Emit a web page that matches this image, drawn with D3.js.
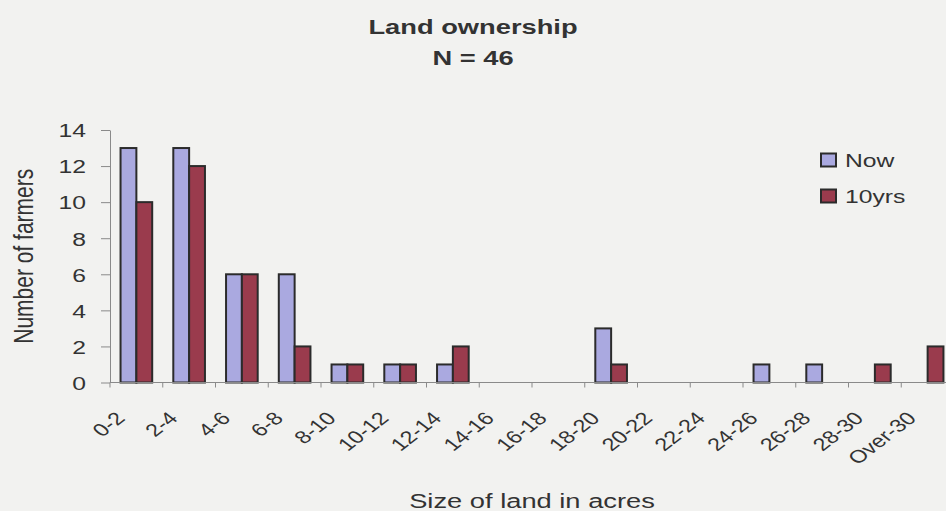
<!DOCTYPE html>
<html>
<head>
<meta charset="utf-8">
<script src="https://cdn.jsdelivr.net/npm/d3@7"></script>
<style>
  html, body { margin: 0; padding: 0; background: #f2f2f0; }
  svg { display: block; }
  text { font-family: "Liberation Sans", Arial, sans-serif; fill: #333; }
</style>
</head>
<body>
<svg id="chart" width="946" height="511"></svg>
<script>
// Land size classes (acres)
const categories = ["0-2", "2-4", "4-6", "6-8", "8-10", "10-12", "12-14", "14-16",
                    "16-18", "18-20", "20-22", "22-24", "24-26", "26-28", "28-30", "Over-30"];
// Number of farmers owning land of each size, now and expected in 10 years
const nowValues   = [13, 13, 6, 6, 1, 1, 1, 0, 0, 3, 0, 0, 1, 1, 0, 0];
const tenYrValues = [10, 12, 6, 2, 1, 1, 2, 0, 0, 1, 0, 0, 0, 0, 1, 2];
const seriesNames = ["Now", "10yrs"];
const seriesColors = ["#aaa9e0", "#9a3b4d"];
const yTicks = [0, 2, 4, 6, 8, 10, 12, 14];

const title = "Land ownership";
const subtitle = "N = 46";
const xTitle = "Size of land in acres";
const yTitle = "Number of farmers";

// text in this chart is drawn slightly wide
const SX = 1.3;

const svg = d3.select("#chart");
const plot = { left: 110, right: 954, top: 130, bottom: 382.5 };

const x = d3.scaleBand().domain(categories).range([plot.left, plot.right]).paddingInner(0).paddingOuter(0);
const bw = x.bandwidth();
const xs = d3.scaleBand().domain(seriesNames).range([0.2 * bw, 0.8 * bw]).padding(0);
const y = d3.scaleLinear().domain([0, 14]).range([plot.bottom, plot.top]);

const rows = categories.map((c, i) => ({ cat: c, values: [nowValues[i], tenYrValues[i]] }));

// Title
const tg = svg.append("g").attr("transform", `translate(473,0)`);
tg.append("text").attr("transform", `translate(0,33.5) scale(${SX},1)`)
  .attr("text-anchor", "middle").attr("font-size", 21).attr("font-weight", "bold").text(title);
tg.append("text").attr("transform", `translate(0,65) scale(${SX},1)`)
  .attr("text-anchor", "middle").attr("font-size", 21).attr("font-weight", "bold").text(subtitle);

// Bars
const groups = svg.append("g").selectAll("g").data(rows).join("g")
  .attr("transform", d => `translate(${x(d.cat)},0)`);
groups.selectAll("rect")
  .data(d => d.values.map((v, k) => ({ s: seriesNames[k], v, k })).filter(e => e.v > 0))
  .join("rect")
  .attr("x", e => xs(e.s))
  .attr("y", e => y(e.v))
  .attr("width", xs.bandwidth())
  .attr("height", e => y(0) - y(e.v))
  .attr("fill", e => seriesColors[e.k])
  .attr("stroke", "#2b2b2b")
  .attr("stroke-width", 2);

// Y axis
const yAxis = svg.append("g").attr("transform", `translate(${plot.left},0)`)
  .call(d3.axisLeft(y).tickValues(yTicks).tickSize(9).tickSizeOuter(0));
yAxis.select(".domain").attr("stroke", "#8a8a8a");
yAxis.selectAll(".tick line").attr("stroke", "#8a8a8a");
yAxis.selectAll(".tick text")
  .attr("x", null).attr("dy", null)
  .attr("transform", `translate(-24,0) scale(${SX},1)`)
  .attr("dy", "0.36em")
  .attr("font-size", 19).attr("font-family", null).attr("fill", "#333");

// X axis: baseline, boundary ticks, rotated labels
const xAxis = svg.append("g");
xAxis.append("line")
  .attr("x1", plot.left).attr("x2", plot.right)
  .attr("y1", y(0)).attr("y2", y(0))
  .attr("stroke", "#8a8a8a").attr("stroke-width", 1.2);
xAxis.selectAll("line.tk").data(categories).join("line").attr("class", "tk")
  .attr("x1", d => x(d)).attr("x2", d => x(d))
  .attr("y1", y(0)).attr("y2", y(0) + 5)
  .attr("stroke", "#8a8a8a");
xAxis.selectAll("text").data(categories).join("text")
  .attr("transform", d => `translate(${x(d) + bw / 2 - 16},415) scale(${SX},1) rotate(-45)`)
  .attr("text-anchor", "end").attr("dy", "0.35em")
  .attr("font-size", 18).text(d => d);

// Axis titles
svg.append("text")
  .attr("transform", `translate(${(plot.left + plot.right) / 2},508) scale(${SX},1)`)
  .attr("text-anchor", "middle").attr("font-size", 21).text(xTitle);
svg.append("text")
  .attr("transform", `translate(33,${(plot.top + plot.bottom) / 2}) scale(${SX},1) rotate(-90)`)
  .attr("text-anchor", "middle").attr("font-size", 21).text(yTitle);

// Legend
const legend = svg.append("g").attr("transform", "translate(821,160)");
const li = legend.selectAll("g").data(seriesNames).join("g")
  .attr("transform", (d, i) => `translate(0,${i * 36})`);
li.append("rect").attr("x", 0).attr("y", -6.5).attr("width", 15).attr("height", 13)
  .attr("fill", (d, i) => seriesColors[i]).attr("stroke", "#2b2b2b").attr("stroke-width", 2);
li.append("text").attr("transform", `translate(24,0) scale(${SX},1)`)
  .attr("dy", "0.35em").attr("font-size", 19).text(d => d);
</script>
</body>
</html>
